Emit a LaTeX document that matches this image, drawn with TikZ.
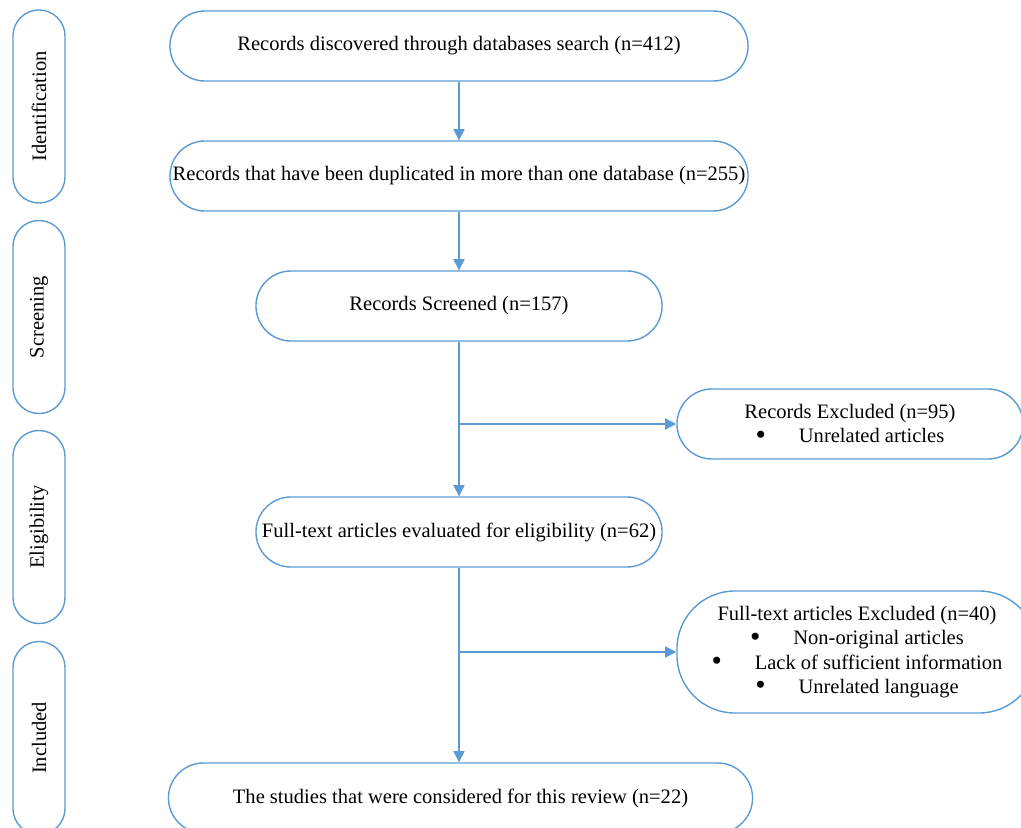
\documentclass[tikz,border=0pt]{standalone}
\usepackage{fontspec}
\setmainfont{Liberation Serif}
\usepackage{tikz}
\usetikzlibrary{arrows.meta, positioning}
\definecolor{flowblue}{HTML}{5B9BD5}
\newcommand{\bigbullet}{\raisebox{-0.08em}{\fontsize{21}{0}\selectfont\textbullet}}

\begin{document}
\begin{tikzpicture}[x=0.025cm, y=-0.025cm,
    every node/.style={font=\fontsize{14.6}{17.2}\selectfont, align=center, inner sep=1pt},
    stage/.style={draw=flowblue, line width=1pt, rotate=90,
        minimum width=4.825cm, minimum height=1.3cm, rounded corners=0.65cm},
    box/.style={draw=flowblue, line width=1pt, minimum height=1.75cm, rounded corners=0.875cm},
    >={Triangle[length=2.8mm, width=2.8mm]}]
    \clip (0,0) rectangle (1021,828);
    % stages
    \node[stage] at (39,106.5) (ident) {Identification};
    \node[stage] at (39,317) (screen) {Screening};
    \node[stage] at (39,527) (elig) {Eligibility};
    \node[stage] at (39,738) (incl) {Included};
    % main flow
    \node[box, minimum width=14.45cm] at (459,46) (found) {Records discovered through databases search (n=412)};
    \node[box, minimum width=14.45cm] at (459,176) (dupl) {Records that have been duplicated in more than one database (n=255)};
    \node[box, minimum width=10.15cm] at (459,306) (screened) {Records Screened (n=157)};
    \node[box, minimum width=10.15cm] at (459,532) (fulltext) {Full-text articles evaluated for eligibility (n=62)};
    \node[box, minimum width=14.6cm] at (460.5,798) (studies) {The studies that were considered for this review (n=22)};
    % exclusions
    \node[box, minimum width=8.65cm] at (850,424) (excl) {Records Excluded (n=95)\\
        \bigbullet\hspace{1.6em}Unrelated articles};
    \node[box, minimum width=9cm, minimum height=3.05cm, rounded corners=1.45cm] at (857,652) (ftexcl) {Full-text articles Excluded (n=40)\\
        \bigbullet\hspace{1.6em}Non-original articles\\
        \bigbullet\hspace{1.6em}Lack of sufficient information\\
        \bigbullet\hspace{1.6em}Unrelated language};
    % connectors
    \draw[flowblue, line width=1pt, ->] (found) -- (dupl);
    \draw[flowblue, line width=1pt, ->] (dupl) -- (screened);
    \draw[flowblue, line width=1pt, ->] (screened) -- (fulltext);
    \draw[flowblue, line width=1pt, ->] (screened.south |- excl.west) -- (excl.west);
    \draw[flowblue, line width=1pt, ->] (fulltext) -- (fulltext.south |- studies.north);
    \draw[flowblue, line width=1pt, ->] (fulltext.south |- ftexcl.west) -- (ftexcl.west);
\end{tikzpicture}
\end{document}
